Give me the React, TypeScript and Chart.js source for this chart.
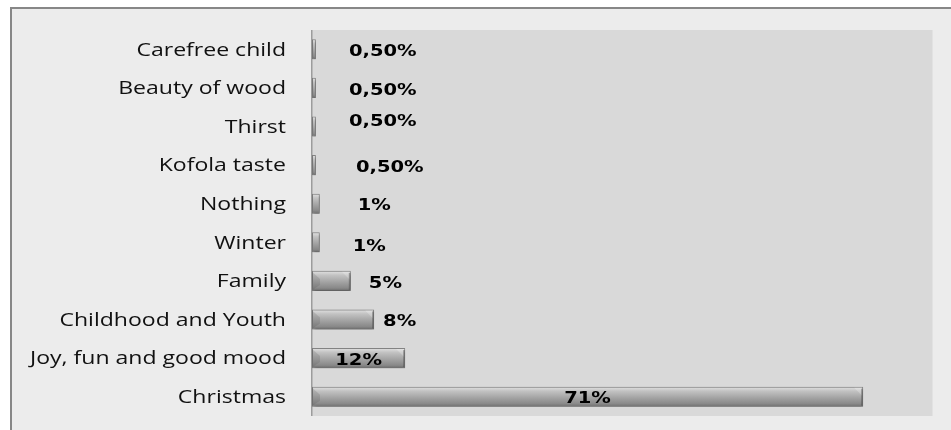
import React, { useEffect, useRef } from "react";
import { Chart, registerables } from "chart.js";

Chart.register(...registerables);

// Associations, share of answers in percent (bottom of list = largest)
const categories = [
  "Carefree child",
  "Beauty of wood",
  "Thirst",
  "Kofola taste",
  "Nothing",
  "Winter",
  "Family",
  "Childhood and Youth",
  "Joy, fun and good mood",
  "Christmas",
];
const shares = [0.5, 0.5, 0.5, 0.5, 1, 1, 5, 8, 12, 71];
const axisMax = 80;

// Value label placement: gap after the bar end in px (null = centred inside the bar)
const labelGap: (number | null)[] = [33, 33, 33, 40, 38, 33, 18, 9, null, null];
const labelLift = [1, 1, -6, 1, 0, 3, 1, 1, 1, 0];

const formatShare = (v: number) =>
  Number.isInteger(v) ? `${v}%` : `${v.toFixed(2).replace(".", ",")}%`;

const CAT_FONT = '18px "Open Sans"';
const CAT_STRETCH = 1.28;
const VAL_FONT = 'bold 16px "DejaVu Sans"';
const VAL_STRETCH = 1.22;

function stretchedText(
  c: CanvasRenderingContext2D,
  text: string,
  x: number,
  y: number,
  sx: number,
  align: CanvasTextAlign
) {
  c.save();
  c.translate(x, y);
  c.scale(sx, 1);
  c.textAlign = align;
  c.textBaseline = "alphabetic";
  c.fillText(text, 0, 0);
  c.restore();
}

const framePlugin = {
  id: "frame",
  beforeDraw(chart: Chart) {
    const { ctx: c, width, height, chartArea: a } = chart;
    c.save();
    c.fillStyle = "#ffffff";
    c.fillRect(0, 0, width, height);
    c.fillStyle = "#ececec";
    c.fillRect(10, 7, width - 10, height - 7);
    c.fillStyle = "#878787";
    c.fillRect(10, 7, width - 10, 2);
    c.fillRect(10, 7, 2, height - 7);
    c.fillStyle = "#d9d9d9";
    c.fillRect(a.left, a.top, a.right - a.left, a.bottom - a.top);
    c.fillStyle = "#e2e2e2";
    c.fillRect(a.right - 1, a.top, 1, a.bottom - a.top);
    c.fillStyle = "#9c9c9c";
    c.fillRect(a.left - 1, a.top, 1.5, a.bottom - a.top);
    c.restore();
  },
  beforeDatasetsDraw(chart: Chart) {
    const c = chart.ctx;
    c.save();
    c.shadowColor = "rgba(0,0,0,0.35)";
    c.shadowBlur = 3;
    c.shadowOffsetX = 1;
    c.shadowOffsetY = 2;
  },
  afterDatasetsDraw(chart: Chart) {
    const c = chart.ctx;
    c.restore();
    const meta = chart.getDatasetMeta(0);
    c.save();
    meta.data.forEach((bar: any) => {
      const { x, y, base, height } = bar.getProps(["x", "y", "base", "height"], true);
      const top = y - height / 2;
      const bottom = y + height / 2;
      const w = x - base;
      if (w < 8) return;
      // slightly shaded left cap
      c.fillStyle = "rgba(70,70,70,0.16)";
      c.beginPath();
      c.moveTo(base, top + 1);
      c.lineTo(base + 8, y - 2);
      c.lineTo(base + 8, y + 4);
      c.lineTo(base, bottom - 1);
      c.closePath();
      c.fill();
      // bevelled right cap
      c.fillStyle = "rgba(255,255,255,0.22)";
      c.beginPath();
      c.moveTo(x - 9, top + 1);
      c.lineTo(x - 1, top + 1);
      c.lineTo(x - 1, top + 9);
      c.closePath();
      c.fill();
      c.fillStyle = "rgba(60,60,60,0.4)";
      c.fillRect(x - 2, top + 2, 1.5, height - 3);
    });
    c.restore();
  },
  afterDraw(chart: Chart) {
    const c = chart.ctx;
    const yScale = chart.scales.y;
    const meta = chart.getDatasetMeta(0);
    c.save();
    c.font = CAT_FONT;
    c.fillStyle = "#111111";
    categories.forEach((name, i) => {
      const yc = yScale.getPixelForValue(i);
      stretchedText(c, name, chart.chartArea.left - 26, yc + 6.3, CAT_STRETCH, "right");
    });
    c.font = VAL_FONT;
    c.fillStyle = "#000000";
    shares.forEach((v, i) => {
      const bar: any = meta.data[i];
      const { x, y, base } = bar.getProps(["x", "y", "base"], true);
      const gap = labelGap[i];
      const baseline = y + labelLift[i] + 5.8;
      if (gap === null) {
        stretchedText(c, formatShare(v), (x + base) / 2, baseline, VAL_STRETCH, "center");
      } else {
        stretchedText(c, formatShare(v), x + gap, baseline, VAL_STRETCH, "left");
      }
    });
    c.restore();
  },
};

export default function App() {
  const canvasRef = useRef<HTMLCanvasElement | null>(null);

  useEffect(() => {
    if (!canvasRef.current) return;
    const chart = new Chart(canvasRef.current, {
      type: "bar",
      data: {
        labels: categories,
        datasets: [
          {
            data: shares,
            backgroundColor: (ctx: any) => {
              const chart = ctx.chart as Chart;
              const ys = chart.scales.y;
              if (!ys || ctx.dataIndex == null) return "#a5a5a5";
              const yc = ys.getPixelForValue(ctx.dataIndex);
              if (!Number.isFinite(yc)) return "#a5a5a5";
              const g = chart.ctx.createLinearGradient(0, yc - 10, 0, yc + 10);
              g.addColorStop(0, "#a8a8a8");
              g.addColorStop(0.07, "#d8d8d8");
              g.addColorStop(0.22, "#c2c2c2");
              g.addColorStop(0.6, "#9f9f9f");
              g.addColorStop(0.86, "#888888");
              g.addColorStop(1, "#686868");
              return g;
            },
            borderColor: "rgba(105,105,105,0.75)",
            borderWidth: 1,
            borderSkipped: false,
            barPercentage: 0.52,
            categoryPercentage: 1,
          },
        ],
      },
      options: {
        indexAxis: "y",
        animation: false,
        responsive: true,
        maintainAspectRatio: false,
        layout: { padding: { left: 312, top: 30, right: 18, bottom: 14 } },
        scales: {
          x: { display: false, min: 0, max: axisMax },
          y: { display: false },
        },
        plugins: {
          legend: { display: false },
          tooltip: { enabled: false },
        },
      },
      plugins: [framePlugin],
    });
    return () => chart.destroy();
  }, []);

  return (
    <div style={{ position: "absolute", left: 0, top: 0, width: 951, height: 430 }}>
      <canvas ref={canvasRef} />
    </div>
  );
}
